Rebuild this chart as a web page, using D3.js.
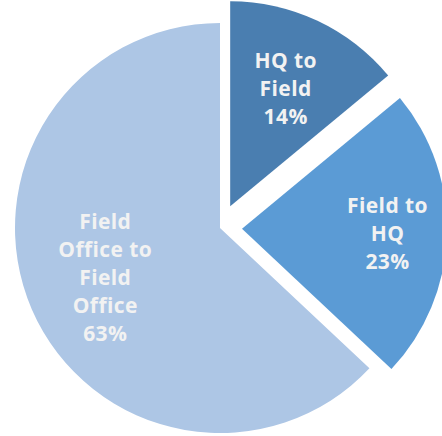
<!DOCTYPE html>
<html><head><meta charset="utf-8">
<script src="https://cdn.jsdelivr.net/npm/d3@7"></script>
<style>html,body{margin:0;padding:0;background:#fff;}svg{display:block;}</style>
</head><body>
<svg id="c" width="442" height="436"></svg>
<script>
const categories = ["HQ to Field", "Field to HQ", "Field Office to Field Office"];
const values = [14, 23, 63];
const labelLines = [["HQ to", "Field"], ["Field to", "HQ"], ["Field", "Office to", "Field", "Office"]];
const colors = ["#4a7eb0", "#5b9bd5", "#adc6e5"];

const explode = [24, 22, 0];
const labelFactor = [0.635, 0.71, 0.61];

const svg = d3.select("#c");
const cx = 220, cy = 228, r = 205;
const g = svg.append("g").attr("transform", `translate(${cx},${cy})`);
const pie = d3.pie().sort(null).value(d => d)(values);
const arc = d3.arc().innerRadius(0).outerRadius(r);
const total = d3.sum(values);

pie.forEach((p, i) => {
  const mid = (p.startAngle + p.endAngle) / 2;
  const ox = Math.sin(mid) * explode[i], oy = -Math.cos(mid) * explode[i];
  const sg = g.append("g").attr("transform", `translate(${ox},${oy})`);
  sg.append("path").attr("d", arc(p)).attr("fill", colors[i]);
  const lr = r * labelFactor[i];
  const lx = Math.sin(mid) * lr, ly = -Math.cos(mid) * lr;
  const lines = labelLines[i].concat([Math.round(values[i] / total * 100) + "%"]);
  const lh = 28;
  const t = sg.append("text").attr("text-anchor", "middle")
    .attr("font-family", "'Open Sans', sans-serif").attr("font-weight", "bold")
    .attr("font-size", 21).attr("letter-spacing", 0.4).attr("fill", "#f2f2f2");
  lines.forEach((s, j) => {
    t.append("tspan").attr("x", lx).attr("y", ly + (j - (lines.length - 1) / 2) * lh + 7.5).text(s);
  });
});
</script>
</body></html>
